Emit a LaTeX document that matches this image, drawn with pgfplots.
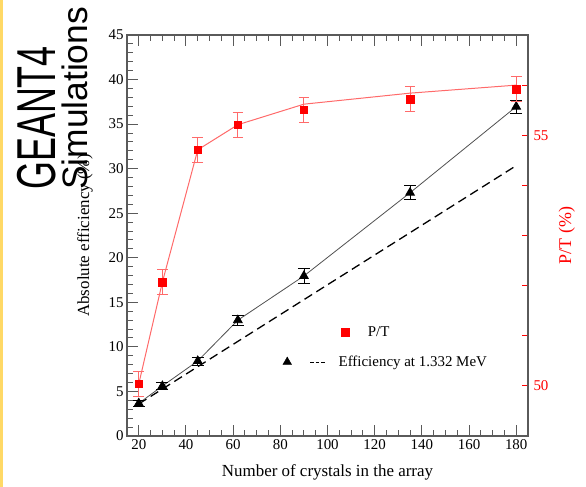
\documentclass[border=0pt]{standalone}
\usepackage{pgfplots}
\pgfplotsset{compat=1.18}
\usepackage{fontspec}
\setmainfont{Liberation Serif}
\newfontfamily\slidefont{Liberation Sans}

\definecolor{spine}{HTML}{5A5A5A}
\definecolor{ptred}{HTML}{FF0000}
\definecolor{ptline}{HTML}{FF6A6A}
\definecolor{effline}{HTML}{505050}
\definecolor{slideband}{HTML}{FFD966}

% Efficiency at 1.332 MeV (left axis, %)
\pgfplotstableread{
n    eff    err
20   3.67   0.30
30   5.61   0.35
45   8.42   0.45
62   13.0   0.55
90   17.96  0.80
135  27.3   0.80
180  36.96  0.75
}\efftable

% Peak-to-total ratio (right axis, %)
\pgfplotstableread{
n    pt     err
20   50.04  0.25
30   52.07  0.25
45   54.71  0.25
62   55.21  0.25
90   55.51  0.25
135  55.72  0.25
180  55.92  0.25
}\pttable

% P/T trend curve
\pgfplotstableread{
n    pt
20   50.04
30   52.07
45   54.71
62   55.21
90   55.62
135  55.84
180  56.00
}\ptcurve

\pgfplotsset{
  chartbase/.style={
    at={(127bp,51bp)}, anchor=south west,
    scale only axis, width=401bp, height=401bp,
    xmin=15, xmax=185,
    axis line style={spine, line width=1.2bp},
    tick align=inside,
    /pgf/number format/assume math mode=true,
    ticklabel style={font=\fontsize{15}{15}\selectfont},
    label style={font=\fontsize{17}{17}\selectfont},
    clip=false,
  },
}

\begin{document}
\begin{tikzpicture}
\useasboundingbox (0bp,0bp) rectangle (586bp,487bp);
\fill[slideband] (0bp,0bp) rectangle (2.5bp,487bp);

\begin{axis}[chartbase,
  ymin=0, ymax=45,
  xtick={20,40,...,180}, minor x tick num=3,
  ytick={0,5,...,45}, minor y tick num=4,
  ytick pos=left,
  tick style={spine, line width=1bp},
  major tick length=11bp, minor tick length=5.5bp,
  xlabel={Number of crystals in the array},
  ylabel={Absolute efficiency (\%)},
  xlabel style={at={(axis description cs:0.5,-0.09)}, anchor=center},
  ylabel style={at={(axis description cs:-0.105,0.5)}, anchor=center},
  legend style={at={(axis description cs:0.3883,0.1845)}, anchor=west,
    draw=none, fill=none, inner sep=0pt,
    font=\fontsize{15}{15}\selectfont,
    nodes={inner sep=0pt},
    /tikz/every odd column/.append style={column sep=13bp}},
]
\addplot[black, line width=1.3bp, dash pattern=on 9bp off 5bp, forget plot]
  coordinates {(20,3.6) (180,30.34)};
\addplot[effline, line width=0.8bp, mark=triangle*, mark size=5bp,
  mark options={black, solid}, forget plot,
  error bars/.cd, y dir=both, y explicit,
  error bar style={black, line width=0.8bp},
  error mark options={rotate=90, mark size=6bp, black, line width=0.8bp}]
  table[x=n, y=eff, y error=err] {\efftable};
\addlegendimage{legend image code/.code={
  \draw[black, fill=black] plot[mark=triangle*, mark size=5bp] coordinates {(0,0)};
  \draw[black, line width=0.8bp, dash pattern=on 3.5bp off 2bp] (23bp,0) -- (38bp,0);}}
\addlegendentry{Efficiency at 1.332 MeV}
\end{axis}

\begin{axis}[chartbase,
  ymin=49, ymax=57,
  axis y line*=right, axis x line=none,
  ytick={50,55}, minor ytick={51,52,53,54,56},
  ytick style={ptred, line width=1bp},
  major tick length=6bp, minor tick length=6bp,
  yticklabel style={ptred, xshift=2bp},
  ylabel={P/T (\%)},
  ylabel style={ptred, font=\fontsize{18}{18}\selectfont,
    at={(axis description cs:1.097,0.5)}, anchor=center},
  legend style={at={(axis description cs:0.5344,0.2586)}, anchor=west,
    draw=none, fill=none, inner sep=0pt,
    font=\fontsize{15}{15}\selectfont,
    nodes={inner sep=0pt},
    /tikz/every odd column/.append style={column sep=19bp}},
]
\addplot[ptline, line width=1bp, forget plot] table[x=n, y=pt] {\ptcurve};
\addplot[only marks, mark=square*, mark size=3.7bp, mark options={ptred},
  forget plot,
  error bars/.cd, y dir=both, y explicit,
  error bar style={ptline, line width=1bp},
  error mark options={rotate=90, mark size=5.3bp, ptline, line width=1bp}]
  table[x=n, y=pt, y error=err] {\pttable};
\addlegendimage{legend image code/.code={
  \draw[ptred, fill=ptred] plot[mark=square*, mark size=3.7bp] coordinates {(0,0)};}}
\addlegendentry{P/T}
\end{axis}

% slide heading
\node[rotate=90, anchor=base west, inner sep=0pt, text=black]
  at (55bp,297bp) {\slidefont\fontsize{55}{55}\selectfont\scalebox{0.655}[1]{GEANT4}};
\node[rotate=90, anchor=base west, inner sep=0pt, text=black]
  at (87bp,297bp) {\slidefont\fontsize{35.5}{35.5}\selectfont Simulations};
\end{tikzpicture}
\end{document}
